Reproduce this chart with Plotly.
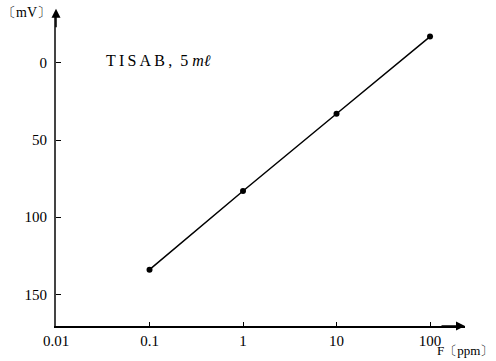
import plotly.graph_objects as go

# Data
conc_ppm = [0.1, 1, 10, 100]
potential_mv = [134, 83, 33, -17]
x_tickvals = [0.01, 0.1, 1, 10, 100]
x_ticktext = ["0.01", "0.1", "1", "10", "100"]
y_tickvals = [0, 50, 100, 150]
y_ticktext = ["0", "50", "100", "150"]

FONT = "Liberation Serif, Times New Roman, serif"
TS = "\u2009"  # thin space for the wide letter spacing of the scan

fig = go.Figure()
fig.add_trace(go.Scatter(
    x=conc_ppm, y=potential_mv, mode="lines+markers",
    line=dict(color="black", width=1.5),
    marker=dict(color="black", size=6, symbol="circle"),
    showlegend=False, hoverinfo="skip",
))

fig.update_layout(
    width=496, height=361,
    margin=dict(l=56, r=31, t=15, b=35),
    paper_bgcolor="white", plot_bgcolor="white",
    font=dict(family=FONT, size=15, color="black"),
    xaxis=dict(
        type="log", range=[-2, 2.374],
        tickvals=x_tickvals, ticktext=x_ticktext,
        showline=True, linecolor="black", linewidth=1.5,
        ticks="inside", ticklen=4, tickcolor="black",
        showgrid=False, zeroline=False, automargin=False,
        tickfont=dict(family=FONT, size=15),
    ),
    yaxis=dict(
        range=[170.5, -31],
        tickvals=y_tickvals, ticktext=y_ticktext,
        showline=True, linecolor="#444", linewidth=2,
        ticks="inside", ticklen=5, tickcolor="black",
        showgrid=False, zeroline=False, ticklabelstandoff=4,
        automargin=False, tickfont=dict(family=FONT, size=15),
    ),
    annotations=[
        # y axis arrow
        dict(xref="paper", yref="paper", x=0, y=1.02, ax=0, ay=20,
             showarrow=True, arrowhead=2, arrowsize=1.2, arrowwidth=1.5,
             arrowcolor="black", text=""),
        # x axis arrow
        dict(xref="paper", yref="paper", x=1.0, y=0, ax=-25, ay=0,
             showarrow=True, arrowhead=2, arrowsize=1.2, arrowwidth=1.5,
             arrowcolor="black", text=""),
        dict(xref="paper", yref="paper", x=-0.008, y=1.0 + 12 / 311,
             xanchor="right", yanchor="top", text="〔mV〕", showarrow=False,
             font=dict(family=FONT, size=14)),
        dict(xref="paper", yref="paper", x=439 / 409, y=-34 / 311,
             xanchor="right", yanchor="bottom", text="F〔ppm〕",
             showarrow=False, font=dict(family=FONT, size=13)),
        dict(xref="paper", yref="paper", x=0.118, y=0.853, xanchor="left",
             yanchor="middle",
             text=TS.join("TISAB,") + "  5 <i>mℓ</i>", showarrow=False,
             font=dict(family=FONT, size=16)),
    ],
)

fig.write_html("out.html", config={"displayModeBar": False},
               post_script="document.body.style.margin='0';")
